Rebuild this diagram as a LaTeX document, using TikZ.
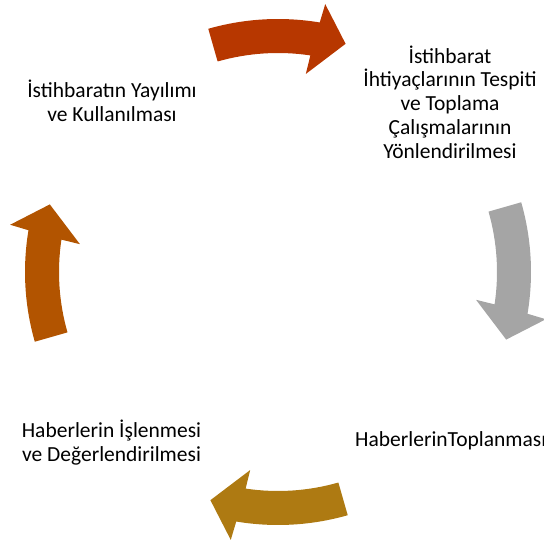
\documentclass[tikz,border=0pt]{standalone}
\usepackage{fontspec}
\setmainfont{Carlito}
\definecolor{arrTop}{RGB}{183,55,0}
\definecolor{arrRight}{RGB}{165,165,165}
\definecolor{arrBottom}{RGB}{174,122,18}
\definecolor{arrLeft}{RGB}{178,84,0}
\newcommand\cyclearrow[2]{%
  \fill[#2] ({#1+16}:253) arc[start angle={#1+16}, end angle={#1-9.5}, radius=253]
    -- ({#1-10}:272) -- ({#1-16.5}:238) -- ({#1-8}:200) -- ({#1-8.5}:219)
    arc[start angle={#1-8.5}, end angle={#1+16}, radius=219] -- cycle;}
\begin{document}
\begin{tikzpicture}[x=1pt,y=1pt,
  lbl/.style={inner sep=0pt, align=center, font=\fontsize{21.5}{23.7}\selectfont, text=black}]
\useasboundingbox (0,0) rectangle (544,544);
\clip (0,0) rectangle (544,544);
\begin{scope}[shift={(278,272)}]
  \cyclearrow{90}{arrTop}
  \cyclearrow{0}{arrRight}
  \cyclearrow{-90}{arrBottom}
  \cyclearrow{180}{arrLeft}
\end{scope}
\node[lbl] (tl) at (112,443) {İstihbaratın Yayılımı\\ve Kullanılması};
\node[lbl] (tr) at (450,442) {İstihbarat\\İhtiyaçlarının Tespiti\\ve Toplama\\Çalışmalarının\\Yönlendirilmesi};
\node[lbl, anchor=base west] (r) at (355,97) {HaberlerinToplanması};
\node[lbl] (bl) at (111.5,101.5) {Haberlerin İşlenmesi\\ve Değerlendirilmesi};
\end{tikzpicture}
\end{document}
